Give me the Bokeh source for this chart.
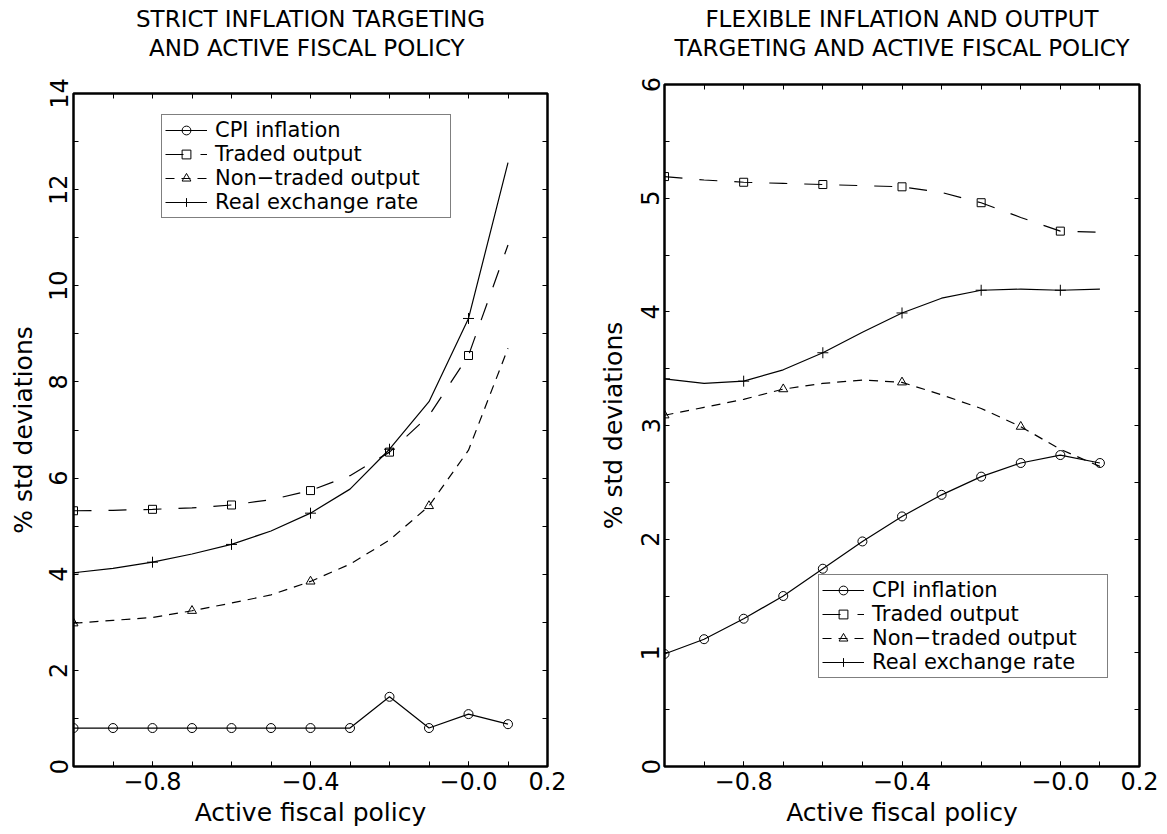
from bokeh.plotting import figure
from bokeh.models import Range1d, LinearAxis, FixedTicker, Legend, LegendItem, Title
from bokeh.layouts import row, column
from bokeh.embed import file_html
from bokeh.resources import INLINE

# ---------------- data ----------------
policy = [-1.0, -0.9, -0.8, -0.7, -0.6, -0.5, -0.4, -0.3, -0.2, -0.1, 0.0, 0.1]

x_ticks = [-0.8, -0.4, 0.0, 0.2]
x_tick_labels = ["\u22120.8", "\u22120.4", "\u22120.0", "0.2"]
x_minor = [-1.0, -0.9, -0.8, -0.7, -0.6, -0.5, -0.4, -0.3, -0.2, -0.1, 0.0, 0.1, 0.2]

series_names = ["CPI inflation", "Traded output", "Non\u2212traded output", "Real exchange rate"]

# Strict inflation targeting
strict_cpi = [0.80, 0.80, 0.80, 0.80, 0.80, 0.80, 0.80, 0.80, 1.45, 0.80, 1.09, 0.88]
strict_traded = [5.32, 5.33, 5.35, 5.38, 5.44, 5.55, 5.74, 6.05, 6.54, 7.30, 8.55, 10.85]
strict_nontraded = [2.98, 3.04, 3.10, 3.24, 3.40, 3.57, 3.85, 4.21, 4.71, 5.42, 6.58, 8.70]
strict_rer = [4.03, 4.12, 4.25, 4.42, 4.62, 4.90, 5.27, 5.77, 6.60, 7.59, 9.32, 12.56]

# Flexible inflation and output targeting
flex_cpi = [0.99, 1.12, 1.30, 1.50, 1.74, 1.98, 2.20, 2.39, 2.55, 2.67, 2.74, 2.67]
flex_traded = [5.19, 5.16, 5.14, 5.13, 5.12, 5.11, 5.10, 5.05, 4.96, 4.83, 4.71, 4.70]
flex_nontraded = [3.09, 3.16, 3.23, 3.32, 3.37, 3.40, 3.38, 3.27, 3.15, 2.99, 2.79, 2.64]
flex_rer = [3.41, 3.37, 3.39, 3.49, 3.64, 3.82, 3.99, 4.12, 4.19, 4.20, 4.19, 4.20]

strict_y_ticks = [0, 2, 4, 6, 8, 10, 12, 14]
strict_y_minor = [1, 3, 5, 7, 9, 11, 13]
flex_y_ticks = [0, 1, 2, 3, 4, 5, 6]
flex_y_minor = [0.5, 1.5, 2.5, 3.5, 4.5, 5.5]

FONT = "DejaVu Sans"


def tick_style(ax):
    ax.axis_line_color = None
    ax.major_tick_in = 5
    ax.major_tick_out = 0
    ax.minor_tick_in = 5
    ax.minor_tick_out = 0
    ax.major_tick_line_color = "black"
    ax.minor_tick_line_color = "black"


def label_style(ax, tick_standoff, label_standoff, label_size="25px"):
    ax.major_label_text_font = FONT
    ax.major_label_text_font_size = "24px"
    ax.major_label_text_color = "black"
    ax.major_label_standoff = tick_standoff
    ax.axis_label_text_font = FONT
    ax.axis_label_text_font_size = label_size
    ax.axis_label_text_font_style = "normal"
    ax.axis_label_text_color = "black"
    ax.axis_label_standoff = label_standoff


def make_panel(title1, title2, cpi, traded, nontraded, rer, y_max, y_ticks, y_minor,
               borders, frame, title_gap, ystand, legend_loc):
    left, right, top, bottom = borders
    fw, fh = frame
    p = figure(frame_width=fw, frame_height=fh, output_backend="svg", toolbar_location=None,
               title=None, x_range=Range1d(-1.0, 0.2), y_range=Range1d(0, y_max),
               min_border_left=left, min_border_right=right,
               min_border_top=top, min_border_bottom=bottom,
               background_fill_color="white", border_fill_color="white")
    p.xgrid.visible = False
    p.ygrid.visible = False
    p.outline_line_color = "black"
    p.outline_line_width = 2.5

    xa = p.xaxis[0]
    xa.ticker = FixedTicker(ticks=x_ticks, minor_ticks=x_minor)
    xa.major_label_overrides = {t: lab for t, lab in zip(x_ticks, x_tick_labels)}
    xa.axis_label = "Active fiscal policy"
    tick_style(xa)
    label_style(xa, 5, 5)

    ya = p.yaxis[0]
    ya.ticker = FixedTicker(ticks=y_ticks, minor_ticks=y_minor)
    ya.axis_label = "% std deviations"
    ya.major_label_orientation = "parallel"
    tick_style(ya)
    label_style(ya, ystand[0], ystand[1])

    # tick marks only on the top edge; its axis label carries the second title line
    top_ax = LinearAxis(ticker=FixedTicker(ticks=[], minor_ticks=x_minor))
    tick_style(top_ax)
    top_ax.axis_label = title2
    label_style(top_ax, 0, title_gap, "23px")
    p.add_layout(top_ax, "above")

    right_ax = LinearAxis(ticker=FixedTicker(ticks=[], minor_ticks=sorted(y_ticks + y_minor)))
    tick_style(right_ax)
    p.add_layout(right_ax, "right")

    t1 = Title(text=title1, align="center", text_font=FONT, text_font_size="23px",
               text_font_style="normal", text_color="black", standoff=0)
    p.add_layout(t1, "above")

    lw = 1.2
    r_cpi = p.line(policy, cpi, line_color="black", line_width=lw)
    m_cpi = p.scatter(policy, cpi, marker="circle", size=9, fill_color=None,
                      line_color="black", line_width=1)

    r_tr = p.line(policy, traded, line_color="black", line_width=lw, line_dash="18 17")
    m_tr = p.scatter(policy[::2], traded[::2], marker="square", size=8, fill_color=None,
                     line_color="black", line_width=1)

    r_nt = p.line(policy, nontraded, line_color="black", line_width=lw, line_dash="9 7")
    m_nt = p.scatter(policy[::3], nontraded[::3], marker="triangle", size=9, fill_color=None,
                     line_color="black", line_width=1)

    r_rx = p.line(policy, rer, line_color="black", line_width=lw)
    m_rx = p.scatter(policy[::2], rer[::2], marker="cross", size=11,
                     line_color="black", line_width=1)

    legend = Legend(items=[
        LegendItem(label=series_names[0], renderers=[r_cpi, m_cpi]),
        LegendItem(label=series_names[1], renderers=[r_tr, m_tr]),
        LegendItem(label=series_names[2], renderers=[r_nt, m_nt]),
        LegendItem(label=series_names[3], renderers=[r_rx, m_rx]),
    ], location=legend_loc)
    legend.label_text_font = FONT
    legend.label_text_font_size = "21px"
    legend.label_text_color = "black"
    legend.label_height = 22
    legend.label_width = 232
    legend.glyph_height = 22
    legend.glyph_width = 42
    legend.label_standoff = 8
    legend.spacing = 0
    legend.padding = 3
    legend.margin = 0
    legend.border_line_color = "black"
    legend.border_line_width = 1
    legend.background_fill_color = "white"
    legend.background_fill_alpha = 1.0
    p.add_layout(legend, "center")
    return p


p1 = make_panel("STRICT INFLATION TARGETING", " AND ACTIVE FISCAL POLICY",
                strict_cpi, strict_traded, strict_nontraded, strict_rer,
                14, strict_y_ticks, strict_y_minor,
                (73, 33, 93, 67), (474, 673), 33, (6, 9), (88, 548))
p2 = make_panel("FLEXIBLE INFLATION AND OUTPUT", "TARGETING AND ACTIVE FISCAL POLICY",
                flex_cpi, flex_traded, flex_nontraded, flex_rer,
                6, flex_y_ticks, flex_y_minor,
                (84, 27, 84, 67), (475, 682), 24, (5, 11), (154, 88))

layout = row(column(p1), column(p2))
open("out.html", "w").write(file_html(layout, INLINE))
